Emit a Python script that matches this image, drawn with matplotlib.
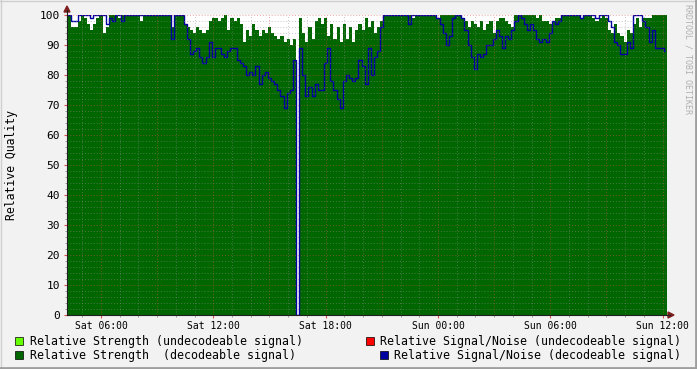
import matplotlib.pyplot as plt
import numpy as np
from matplotlib.ticker import MultipleLocator, FixedLocator
from matplotlib.patches import Polygon, Rectangle
from matplotlib.lines import Line2D

# one value every 10 minutes, first slot starts Sat 04:05
start_hour = 4 + 5 / 60
step_hours = 10 / 60

strength = [
    100, 100, 96, 96, 98, 100, 99, 97, 95, 97,
    99, 100, 94, 96, 100, 100, 100, 99, 100, 100,
    100, 100, 100, 100, 98, 100, 100, 100, 100, 100,
    100, 100, 100, 100, 96, 100, 100, 100, 97, 96,
    95, 94, 96, 95, 94, 95, 98, 99, 99, 98,
    99, 100, 95, 99, 98, 99, 97, 91, 95, 93,
    97, 95, 93, 95, 94, 96, 94, 93, 92, 93,
    91, 92, 90, 92, 0, 99, 94, 91, 96, 92,
    98, 99, 97, 99, 93, 97, 92, 96, 91, 97,
    92, 96, 91, 95, 97, 95, 99, 96, 98, 94,
    96, 98, 100, 100, 100, 100, 100, 100, 100, 100,
    100, 99, 100, 100, 100, 100, 100, 100, 100, 99,
    100, 100, 100, 100, 100, 100, 100, 99, 98, 96,
    98, 97, 96, 98, 95, 97, 98, 94, 98, 99,
    99, 98, 97, 96, 100, 100, 100, 100, 100, 100,
    100, 99, 100, 98, 98, 97, 98, 99, 99, 100,
    100, 100, 100, 100, 100, 99, 100, 100, 100, 99,
    98, 99, 100, 99, 95, 94, 97, 94, 93, 91,
    95, 94, 97, 99, 96, 99, 99, 99, 100, 100,
    100, 100, 100,
]

snr = [
    100, 100, 98, 98, 100, 100, 100, 100, 99, 100,
    100, 100, 100, 97, 99, 98, 100, 100, 98, 100,
    100, 100, 100, 100, 100, 100, 100, 100, 100, 100,
    100, 100, 100, 100, 92, 100, 100, 100, 97, 92,
    87, 88, 89, 86, 84, 86, 91, 86, 89, 89,
    87, 86, 88, 89, 89, 85, 84, 83, 80, 81,
    80, 83, 77, 80, 81, 79, 78, 77, 75, 73,
    69, 74, 75, 85, 0, 89, 80, 73, 76, 73,
    77, 75, 75, 84, 89, 78, 75, 72, 69, 78,
    80, 79, 78, 79, 85, 83, 77, 89, 80, 86,
    88, 96, 100, 100, 100, 100, 100, 100, 100, 100,
    97, 100, 100, 100, 100, 100, 100, 100, 100, 99,
    97, 94, 90, 93, 99, 100, 100, 99, 95, 90,
    86, 82, 87, 86, 87, 90, 90, 92, 95, 93,
    89, 93, 92, 95, 98, 100, 99, 97, 95, 97,
    95, 92, 91, 92, 91, 94, 98, 97, 98, 100,
    100, 100, 100, 100, 100, 99, 100, 100, 100, 100,
    99, 100, 100, 100, 98, 96, 91, 90, 87, 87,
    91, 89, 100, 100, 100, 98, 96, 91, 95, 89,
    89, 89, 88,
]

tick_hours = [6, 12, 18, 24, 30, 36]
tick_labels = ["Sat 06:00", "Sat 12:00", "Sat 18:00",
               "Sun 00:00", "Sun 06:00", "Sun 12:00"]

legend_items = [
    ("Relative Strength (undecodeable signal)", "#66FF00"),
    ("Relative Signal/Noise (undecodeable signal)", "#FF0000"),
    ("Relative Strength  (decodeable signal)", "#006600"),
    ("Relative Signal/Noise (decodeable signal)", "#0000A0"),
]

W, H = 697, 369
def fx(px):
    return px / W
def fy(py):
    return 1 - py / H

mono = "DejaVu Sans Mono"
plt.rcParams["font.family"] = mono

fig = plt.figure(figsize=(W / 100, H / 100), dpi=100)
fig.patch.set_facecolor("#F2F2F2")

ax = fig.add_axes([fx(67), fy(315), 599 / W, 300 / H])
ax.set_facecolor("white")

t = start_hour + step_hours * np.arange(len(strength) + 1)
s = np.append(strength, strength[-1])
n = np.append(snr, snr[-1])

ax.fill_between(t, 0, s, step="post", color="#006600", lw=0, zorder=2)
ax.step(t, n, where="post", color="#0000A0", lw=1.0, zorder=3)

ax.set_xlim(4.183, 36.183)
ax.set_ylim(0, 100)

# grid drawn over the graph, rrdtool style
minor_c = (0.56, 0.56, 0.56, 0.5)
major_c = (0.87, 0.31, 0.31, 0.5)
for h in range(5, 37):
    c = major_c if h % 3 == 0 else minor_c
    ax.axvline(h, color=c, lw=0.7, ls=(0, (1, 2)), zorder=4)
for v in range(2, 101, 2):
    c = major_c if v % 10 == 0 else minor_c
    ax.axhline(v, color=c, lw=0.7, ls=(0, (1, 2)), zorder=4)

ax.xaxis.set_major_locator(FixedLocator(tick_hours))
ax.set_xticklabels(tick_labels, fontsize=7)
ax.xaxis.set_minor_locator(MultipleLocator(1))
ax.yaxis.set_major_locator(MultipleLocator(10))
ax.yaxis.set_minor_locator(MultipleLocator(2))
ax.tick_params(axis="both", which="major", direction="inout", length=4,
               width=0.8, color=(0.87, 0.31, 0.31), labelsize=7, pad=2)
ax.tick_params(axis="both", which="minor", direction="inout", length=3,
               width=0.6, color=(0.56, 0.56, 0.56))
ax.tick_params(axis="y", labelsize=8, pad=3)
for sp in ax.spines.values():
    sp.set_visible(False)

ax.set_ylabel("Relative Quality", fontsize=8.3, labelpad=16)

# axes lines and arrows
axis_c = "#1F1F1F"
fig.add_artist(Line2D([fx(67), fx(67)], [fy(315), fy(10)], color=axis_c, lw=0.8))
fig.add_artist(Line2D([fx(67), fx(670)], [fy(315), fy(315)], color=axis_c, lw=0.8))
arrow_c = "#801F1F"
fig.add_artist(Polygon([[fx(67), fy(6)], [fx(64), fy(12)], [fx(70), fy(12)]],
                       closed=True, color=arrow_c, transform=fig.transFigure))
fig.add_artist(Polygon([[fx(674), fy(315)], [fx(668), fy(312)], [fx(668), fy(318)]],
                       closed=True, color=arrow_c, transform=fig.transFigure))

# frame shading
fig.add_artist(Line2D([0, 1], [fy(0.5), fy(0.5)], color="#CFCFCF", lw=1))
fig.add_artist(Line2D([fx(0.5), fx(0.5)], [0, 1], color="#CFCFCF", lw=1))
fig.add_artist(Line2D([fx(695.5), fx(695.5)], [0, 1], color="#9E9E9E", lw=2))
fig.add_artist(Line2D([0, 1], [fy(367.5), fy(367.5)], color="#9E9E9E", lw=2))

fig.text(fx(688), fy(4), "RRDTOOL / TOBI OETIKER", rotation=270, fontsize=6,
         color="#B0B0B0", ha="center", va="top")

# legend
rows = [(341, 15, 30, 366, 380), (355, 15, 30, 380, 394)]
for i, (label, col) in enumerate(legend_items):
    r = rows[i // 2]
    y = r[0]
    bx, tx = (r[1], r[2]) if i % 2 == 0 else (r[3], r[4])
    fig.add_artist(Rectangle((fx(bx), fy(y + 4)), 8 / W, 8 / H, facecolor=col,
                             edgecolor="#000000", lw=0.5, transform=fig.transFigure))
    fig.text(fx(tx), fy(y), label, fontsize=8.35, va="center", ha="left")

fig.savefig("out.png", dpi=100, facecolor=fig.get_facecolor())
